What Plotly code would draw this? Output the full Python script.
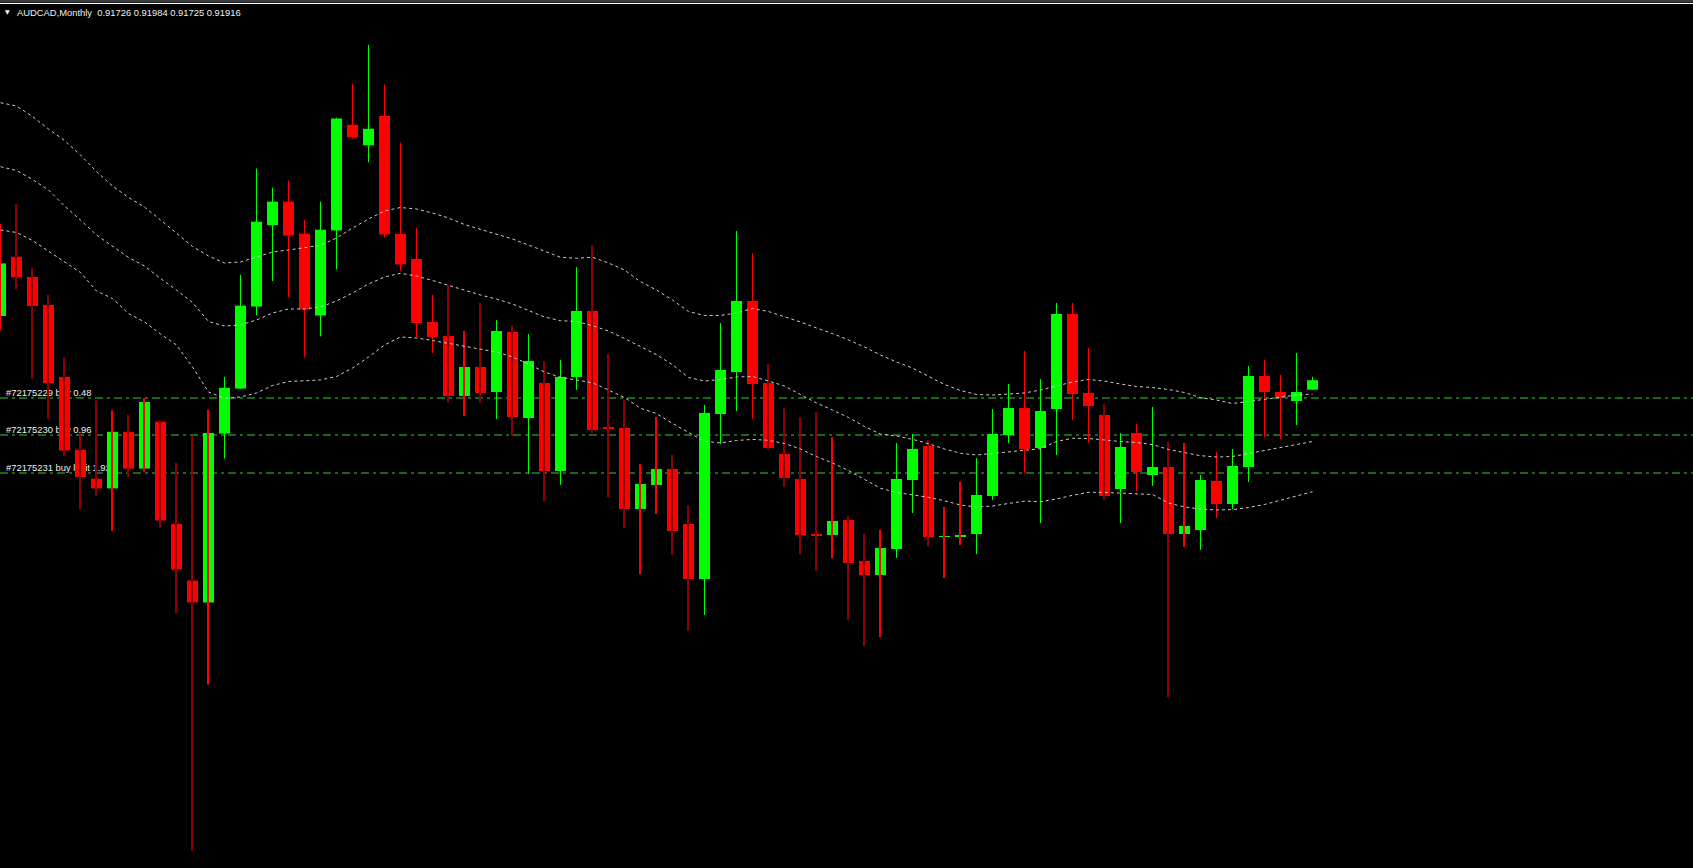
import plotly.graph_objects as go

# ---------------- data ----------------
candle_idx = list(range(83))

opens = [0.9320, 0.94384, 0.9398, 0.9342, 0.9198, 0.90524, 0.89946, 0.89752, 0.90884, 0.90148,
         0.91086, 0.89042, 0.8791, 0.87472, 0.90848, 0.91748, 0.9339, 0.95016, 0.95488, 0.94846,
         0.93212, 0.94908, 0.97024, 0.96614, 0.97202, 0.9484, 0.9434, 0.9308, 0.9280, 0.9160,
         0.9218, 0.9168, 0.9288, 0.9116, 0.9186, 0.9010, 0.9198, 0.9330, 0.9098, 0.9096,
         0.8934, 0.8982, 0.9014, 0.8904, 0.8794, 0.9124, 0.9208, 0.9350, 0.9186, 0.9044,
         0.8994, 0.8884, 0.8882, 0.8912, 0.8830, 0.8802, 0.8854, 0.8992, 0.9060, 0.8878,
         0.8878, 0.8884, 0.8960, 0.9082, 0.9136, 0.9056, 0.9134, 0.9324, 0.9166, 0.9122,
         0.8974, 0.9086, 0.9002, 0.9018, 0.8884, 0.8892, 0.8990, 0.8944, 0.9018, 0.9200,
         0.9168, 0.9150, 0.91726]
highs = [0.9504, 0.9544, 0.94166, 0.9362, 0.92368, 0.9085, 0.91508, 0.91314, 0.91226, 0.9156,
         0.91112, 0.90262, 0.90806, 0.91326, 0.91984, 0.94024, 0.9615, 0.95766, 0.95908, 0.95122,
         0.95488, 0.97166, 0.97846, 0.98622, 0.97828, 0.96666, 0.9496, 0.9362, 0.9382, 0.9290,
         0.9346, 0.9312, 0.9300, 0.9284, 0.9230, 0.9232, 0.9418, 0.9462, 0.9244, 0.9152,
         0.9024, 0.9118, 0.9042, 0.8942, 0.9142, 0.9306, 0.9490, 0.9446, 0.9224, 0.9136,
         0.9118, 0.9128, 0.9078, 0.8920, 0.8884, 0.8892, 0.9066, 0.9084, 0.9072, 0.8938,
         0.8988, 0.9036, 0.9134, 0.9184, 0.9250, 0.9194, 0.9346, 0.9346, 0.9256, 0.9144,
         0.9086, 0.9104, 0.9138, 0.9068, 0.9066, 0.9002, 0.9048, 0.9054, 0.9220, 0.9232,
         0.9202, 0.9246, 0.91984]
lows = [0.9291, 0.9374, 0.91946, 0.9114, 0.9041, 0.8934, 0.89604, 0.88902, 0.8998, 0.90086,
        0.88964, 0.87252, 0.8250, 0.8583, 0.90348, 0.9174, 0.93212, 0.9390, 0.93578, 0.92372,
        0.92792, 0.94132, 0.96738, 0.96274, 0.94774, 0.94104, 0.9278, 0.9246, 0.9148, 0.9120,
        0.9146, 0.9114, 0.9080, 0.9004, 0.8950, 0.8982, 0.9172, 0.9086, 0.8958, 0.8896,
        0.8804, 0.8924, 0.8842, 0.8690, 0.8722, 0.9064, 0.9130, 0.9114, 0.9054, 0.8978,
        0.8844, 0.8810, 0.8836, 0.8712, 0.8660, 0.8678, 0.8836, 0.8926, 0.8860, 0.8796,
        0.8862, 0.8844, 0.8952, 0.9066, 0.9006, 0.8906, 0.9042, 0.9112, 0.9066, 0.8952,
        0.8906, 0.8970, 0.8980, 0.8558, 0.8858, 0.8852, 0.8916, 0.8934, 0.8988, 0.9078,
        0.9074, 0.9102, 0.91725]
closes = [0.94252, 0.93972, 0.9340, 0.9186, 0.90508, 0.8998, 0.89752, 0.90884, 0.90148, 0.9148,
          0.89112, 0.8813, 0.87472, 0.9086, 0.91764, 0.93408, 0.95086, 0.95488, 0.9481, 0.93328,
          0.94926, 0.97148, 0.96774, 0.96944, 0.94828, 0.9423, 0.9306, 0.9278, 0.9160, 0.9218,
          0.9166, 0.9290, 0.9118, 0.9230, 0.9010, 0.9198, 0.9330, 0.9092, 0.9094, 0.8934,
          0.8984, 0.9014, 0.8890, 0.8794, 0.9126, 0.9212, 0.9350, 0.9184, 0.9056, 0.8996,
          0.8882, 0.8880, 0.8910, 0.8826, 0.8802, 0.8856, 0.8994, 0.9054, 0.8878, 0.8880,
          0.8882, 0.8962, 0.9084, 0.9136, 0.9054, 0.9130, 0.9324, 0.9164, 0.9140, 0.8960,
          0.9058, 0.9008, 0.9018, 0.8884, 0.8900, 0.8992, 0.8944, 0.9020, 0.9200, 0.9168,
          0.9156, 0.9168, 0.91916]
# wick colour class per candle: g = green, r = red, d = dark red (10 candles per chunk)
wick_class = list("rddddddrdr" "dddrggggrr" "ggrgrrrrdr" "dgdgdggddd" "rrddgggrdd"
                  "ddrddrggdr" "rgggrggrrd" "grgdrgrggr" "rgg")

bb_upper = [0.97466, 0.9740, 0.9719, 0.9694, 0.9671, 0.9642, 0.9609, 0.9580, 0.9557, 0.9538,
            0.9512, 0.9486, 0.9459, 0.9440, 0.9426, 0.9428, 0.9438, 0.9448, 0.9452, 0.9456,
            0.94614, 0.9476, 0.9496, 0.9514, 0.9530, 0.9537, 0.9534, 0.9526, 0.9516, 0.9503,
            0.94934, 0.9484, 0.9474, 0.9462, 0.9449, 0.94374, 0.94354, 0.94374, 0.9426, 0.9412,
            0.93886, 0.9372, 0.9352, 0.9329, 0.9321, 0.9321, 0.9326, 0.9335, 0.9329, 0.9319,
            0.9308, 0.9296, 0.9285, 0.9272, 0.9258, 0.9242, 0.9228, 0.9216, 0.9200, 0.9183,
            0.9171, 0.9163, 0.9162, 0.91634, 0.9166, 0.9172, 0.9180, 0.9188, 0.9193, 0.9190,
            0.9184, 0.9179, 0.9177, 0.9173, 0.9167, 0.91566, 0.9152, 0.9145, 0.9149, 0.9153,
            0.91574, 0.9162, 0.9164]
bb_middle = [0.96186, 0.9611, 0.9593, 0.9572, 0.9540, 0.9512, 0.9482, 0.9460, 0.9437, 0.9420,
             0.9395, 0.9372, 0.9347, 0.9309, 0.9300, 0.9302, 0.9312, 0.9326, 0.9334, 0.93342,
             0.9338, 0.9350, 0.9366, 0.9384, 0.9398, 0.94054, 0.9400, 0.9391, 0.9381, 0.9371,
             0.9362, 0.9354, 0.9344, 0.9331, 0.9318, 0.93106, 0.9309, 0.93006, 0.9290, 0.9275,
             0.92586, 0.92426, 0.92226, 0.9197, 0.9190, 0.9193, 0.9198, 0.9199, 0.9190, 0.9180,
             0.9163, 0.9146, 0.9132, 0.9117, 0.9099, 0.9084, 0.9080, 0.90734, 0.90646, 0.9054,
             0.90454, 0.9042, 0.9045, 0.90484, 0.90504, 0.90546, 0.9069, 0.90754, 0.9075, 0.90716,
             0.9069, 0.9067, 0.9063, 0.9053, 0.9047, 0.90406, 0.9038, 0.9039, 0.9045, 0.9051,
             0.9058, 0.9064, 0.9069]
bb_lower = [0.9492, 0.9487, 0.9471, 0.9450, 0.9429, 0.9407, 0.9370, 0.9355, 0.9325, 0.9308,
            0.9284, 0.9262, 0.9218, 0.9168, 0.91554, 0.9158, 0.9166, 0.9181, 0.9189, 0.9191,
            0.9192, 0.9199, 0.9216, 0.9238, 0.9262, 0.9278, 0.9276, 0.9271, 0.92654, 0.9259,
            0.9254, 0.9248, 0.9238, 0.9224, 0.9208, 0.91974, 0.9192, 0.91864, 0.9172, 0.9157,
            0.91354, 0.9125, 0.9105, 0.9088, 0.90694, 0.9066, 0.9071, 0.90732, 0.90714, 0.9065,
            0.9054, 0.9039, 0.9026, 0.9011, 0.8994, 0.89754, 0.8967, 0.8962, 0.89574, 0.89504,
            0.8942, 0.8938, 0.8940, 0.8945, 0.89498, 0.89486, 0.8954, 0.89614, 0.89674, 0.89672,
            0.8966, 0.8964, 0.8963, 0.8946, 0.8938, 0.8934, 0.8932, 0.89328, 0.8937, 0.8943,
            0.8951, 0.8960, 0.89686]

order_levels = [0.9156, 0.9082, 0.9006]
order_labels = ["#72175229 buy 0.48", "#72175230 buy 0.96", "#72175231 buy limit 1.92"]
header_text = "AUDCAD,Monthly  0.91726 0.91984 0.91725 0.91916"

# ---------------- geometry / styles ----------------
W, H = 1693, 868
PX = 1.0 / 16          # one screen pixel in candle units (16 px per candle)
X0 = -0.5 * PX
X1 = X0 + W * PX
YPX = 0.0002           # one screen pixel in price units
Y1 = 0.9952
Y0 = Y1 - H * YPX

GREEN, RED, DARK = "#00FF00", "#FF0000", "#8B0000"
LEVEL_GREEN = "#32CD32"
BAND = "#CFCFCF"
FONT = "Liberation Sans"
FSIZE = 9.4

fig = go.Figure()

# base layer: order levels and their labels (behind the candles)
for lvl in order_levels:
    fig.add_trace(go.Scatter(x=[X0, X1], y=[lvl, lvl], mode="lines",
                             line=dict(color=LEVEL_GREEN, width=1, dash="8px,4px,3px,4px"),
                             hoverinfo="skip", showlegend=False, xaxis="x", yaxis="y"))
fig.add_trace(go.Scatter(x=[X0 + 6 * PX] * len(order_levels), y=order_levels, mode="text",
                         text=order_labels, textposition="top right",
                         textfont=dict(family=FONT, size=FSIZE, color="#F0F0F0"),
                         hoverinfo="skip", showlegend=False, xaxis="x", yaxis="y"))

# overlay layer: candle bodies
is_up = [c >= o for o, c in zip(opens, closes)]
for col, flag in [(GREEN, True), (RED, False)]:
    idx = [i for i in candle_idx if is_up[i] == flag]
    fig.add_trace(go.Bar(x=idx,
                         base=[min(opens[i], closes[i]) for i in idx],
                         y=[abs(closes[i] - opens[i]) for i in idx],
                         width=11 * PX, marker=dict(color=col, line=dict(width=0)),
                         hoverinfo="skip", showlegend=False, xaxis="x", yaxis="y2"))

# wicks (drawn over the bodies)
wick_col = {"g": GREEN, "r": RED, "d": DARK}
groups = {}
for i in candle_idx:
    wc = wick_class[i]
    body = "g" if is_up[i] else "r"
    thick = 1 if (wc == body) else 2
    key = (wc, thick)
    xs, ys = groups.setdefault(key, ([], []))
    xo = i - (0.5 * PX if thick == 2 else 0)
    xs += [xo, xo, None]
    ys += [lows[i], highs[i], None]
for (wc, thick), (xs, ys) in groups.items():
    fig.add_trace(go.Scatter(x=xs, y=ys, mode="lines", line=dict(color=wick_col[wc], width=thick),
                             hoverinfo="skip", showlegend=False, xaxis="x", yaxis="y2"))

# Bollinger-style bands
for band in (bb_upper, bb_middle, bb_lower):
    fig.add_trace(go.Scatter(x=candle_idx, y=band, mode="lines",
                             line=dict(color=BAND, width=1, dash="3px,3px"),
                             hoverinfo="skip", showlegend=False, xaxis="x", yaxis="y2"))

# header
fig.add_annotation(x=3 / W, y=1 - 11.5 / H, xref="paper", yref="paper", text="▼",
                   showarrow=False, xanchor="left", yanchor="middle",
                   font=dict(family="DejaVu Sans", size=6, color="#FFFFFF"))
fig.add_annotation(x=15 / W, y=1 - 12 / H, xref="paper", yref="paper", text=header_text,
                   showarrow=False, xanchor="left", yanchor="middle",
                   font=dict(family=FONT, size=FSIZE, color="#F0F0F0"))

# window frame at the top
fig.add_shape(type="rect", xref="paper", yref="paper", x0=0, x1=1, y0=1 - 2.6 / H, y1=1,
              fillcolor="#3C3C3C", line=dict(width=0), layer="above")
fig.add_shape(type="line", xref="paper", yref="paper", x0=0, x1=1, y0=1 - 3.5 / H, y1=1 - 3.5 / H,
              line=dict(color="#FFFFFF", width=1), layer="above")

axis_off = dict(visible=False, showgrid=False, zeroline=False, fixedrange=True)
fig.update_layout(
    width=W, height=H,
    margin=dict(l=0, r=0, t=0, b=0, pad=0),
    paper_bgcolor="#000000", plot_bgcolor="#000000",
    barmode="overlay", showlegend=False,
    xaxis=dict(range=[X0, X1], **axis_off),
    yaxis=dict(range=[Y0, Y1], **axis_off),
    yaxis2=dict(range=[Y0, Y1], overlaying="y", **axis_off),
)

page_js = ("document.documentElement.style.margin='0';document.documentElement.style.padding='0';"
           "document.body.style.margin='0';document.body.style.padding='0';"
           "document.body.style.background='#000000';document.body.style.overflow='hidden';"
           "document.documentElement.style.overflow='hidden';")
fig.write_html("out.html", config={"displayModeBar": False}, post_script=page_js)
